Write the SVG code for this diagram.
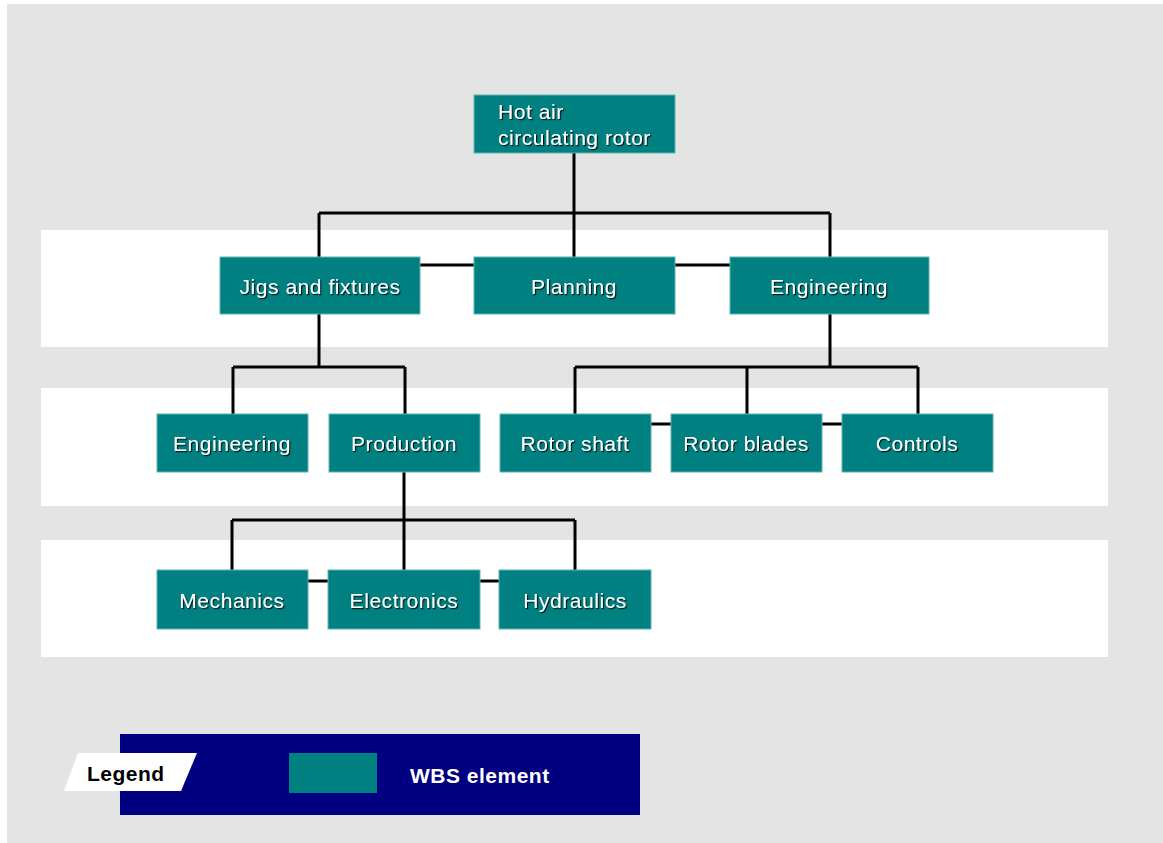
<svg xmlns="http://www.w3.org/2000/svg" width="1163" height="843" viewBox="0 0 1163 843">
<defs>
<filter id="sh" x="-10%" y="-30%" width="120%" height="160%">
<feDropShadow dx="1.2" dy="1.2" stdDeviation="0.4" flood-color="#000" flood-opacity="0.85"/>
</filter>
<style>
.box{fill:#008080;stroke:#5fb3b3;stroke-width:1}
.t{font-family:"Liberation Sans",Arial,sans-serif;font-size:21px;letter-spacing:0.55px;fill:#fff;text-anchor:middle;filter:url(#sh)}
.c{fill:none;stroke:#000;stroke-width:3}
.band{fill:#fff}
.lg{font-family:"Liberation Sans",Arial,sans-serif;font-size:21px;font-weight:bold;letter-spacing:0.5px}
</style>
</defs>
<rect x="0" y="0" width="1163" height="843" fill="#fff"/>
<rect x="7" y="4" width="1156" height="839" fill="#e4e4e4"/>
<rect class="band" x="41" y="230" width="1067" height="117"/>
<rect class="band" x="41" y="388" width="1067" height="118"/>
<rect class="band" x="41" y="540" width="1067" height="117"/>

<g id="connectors">
<path class="c" d="M574,153 V213 M319,213 H830 M319,213 V257 M574,213 V257 M830,213 V257"/>
<path class="c" d="M420,265 H474 M675,265 H730"/>
<path class="c" d="M319,314 V367 M233,367 H405 M233,367 V414 M405,367 V414"/>
<path class="c" d="M830,314 V367 M575,367 H918 M575,367 V414 M747,367 V414 M918,367 V414"/>
<path class="c" d="M651,424 H671 M822,424 H842"/>
<path class="c" d="M404,472 V520 M232,520 H575 M232,520 V570 M404,520 V570 M575,520 V570"/>
<path class="c" d="M308,581 H328 M480,581 H499"/>
</g>

<g id="root"><rect class="box" x="474" y="95" width="201" height="58"/>
<text class="t" style="text-anchor:start" x="498" y="119">Hot air</text>
<text class="t" style="text-anchor:start" x="498" y="145">circulating rotor</text></g>

<g id="jigs"><rect class="box" x="220" y="257" width="200" height="57"/><text class="t" x="320" y="294">Jigs and fixtures</text></g>
<g id="planning"><rect class="box" x="474" y="257" width="201" height="57"/><text class="t" x="574" y="294">Planning</text></g>
<g id="engineering1"><rect class="box" x="730" y="257" width="199" height="57"/><text class="t" x="829" y="294">Engineering</text></g>

<g id="engineering2"><rect class="box" x="157" y="414" width="151" height="58"/><text class="t" x="232" y="451">Engineering</text></g>
<g id="production"><rect class="box" x="329" y="414" width="151" height="58"/><text class="t" x="404" y="451">Production</text></g>
<g id="rotorshaft"><rect class="box" x="500" y="414" width="151" height="58"/><text class="t" x="575" y="451">Rotor shaft</text></g>
<g id="rotorblades"><rect class="box" x="671" y="414" width="151" height="58"/><text class="t" x="746" y="451">Rotor blades</text></g>
<g id="controls"><rect class="box" x="842" y="414" width="151" height="58"/><text class="t" x="917" y="451">Controls</text></g>

<g id="mechanics"><rect class="box" x="157" y="570" width="151" height="59"/><text class="t" x="232" y="608">Mechanics</text></g>
<g id="electronics"><rect class="box" x="328" y="570" width="152" height="59"/><text class="t" x="404" y="608">Electronics</text></g>
<g id="hydraulics"><rect class="box" x="499" y="570" width="152" height="59"/><text class="t" x="575" y="608">Hydraulics</text></g>

<g id="legend">
<rect x="120" y="734" width="520" height="81" fill="#000080"/>
<polygon points="78,753 197,753 181,791 64,791" fill="#fff"/>
<text class="lg" x="87" y="781" fill="#000">Legend</text>
<rect x="289" y="753" width="88" height="40" fill="#008080"/>
<text class="lg" x="410" y="783" fill="#fff">WBS element</text>
</g>
</svg>
